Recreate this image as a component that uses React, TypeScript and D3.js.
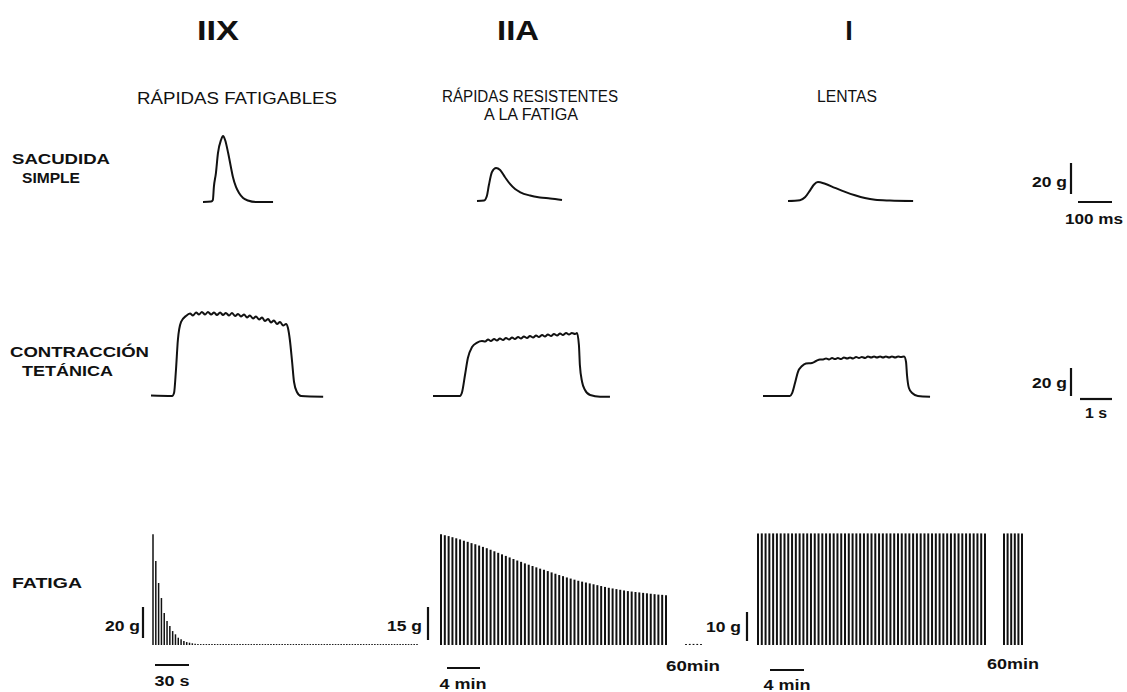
import React, { useEffect, useRef } from 'react'
import * as d3 from 'd3'

const W = 1127
const H = 692

// column headers
const fibreTypes = ['IIX', 'IIA', 'I']
const fibreNames = [['RÁPIDAS FATIGABLES'], ['RÁPIDAS RESISTENTES', 'A LA FATIGA'], ['LENTAS']]
const rowLabels = [['SACUDIDA', 'SIMPLE'], ['CONTRACCIÓN', 'TETÁNICA'], ['FATIGA']]

// single twitch, [ms, g]
const twitchIIX = [[0, 0], [24, 0.3], [29, 1.3], [32, 9.7], [38, 18.7], [44, 31.6], [53, 40], [59, 42.6], [65, 40], [74, 31.6], [82, 22.6], [88, 16.1], [97, 9.7], [106, 5.8], [118, 2.6], [132, 1], [156, 0], [206, 0]]
const twitchIIA = [[0, 0], [21, 0.3], [29, 3.2], [35, 10.3], [44, 18.7], [56, 21.3], [68, 20], [82, 15.5], [97, 11], [112, 7.7], [126, 5.8], [156, 3.5], [185, 2.3], [215, 1.6], [250, 0.6]]
const twitchI = [[0, 0], [35, 0.5], [50, 2.4], [65, 6.9], [76, 10.5], [88, 12.3], [109, 11.1], [138, 8.5], [168, 5.9], [197, 3.7], [226, 1.9], [256, 0.8], [300, 0.3], [368, 0]]

// tetanic contraction, [s, g]
const tetanusIIX = [[0, 0.3], [0.66, 0], [0.72, 2.1], [0.78, 18.6], [0.84, 40], [0.94, 52.9], [1.09, 57.1],
  [1.22, 58.9], [1.31, 57.5], [1.41, 59.6], [1.5, 58.2], [1.59, 60], [1.69, 58.2], [1.78, 60], [1.88, 58.2], [1.97, 59.6], [2.06, 57.9],
  [2.16, 59.6], [2.25, 57.9], [2.34, 59.3], [2.44, 57.5], [2.53, 59.3], [2.63, 57.1], [2.72, 58.6], [2.81, 56.8], [2.91, 58.2], [3.0, 56.1],
  [3.09, 57.5], [3.19, 55.4], [3.28, 56.8], [3.38, 54.6], [3.47, 56.1], [3.56, 53.6], [3.66, 55], [3.75, 52.5], [3.84, 53.9], [3.94, 51.4],
  [4.03, 52.9], [4.13, 50.4], [4.22, 51.4], [4.28, 48.6], [4.34, 40], [4.41, 24.3], [4.47, 10], [4.56, 2.9], [4.69, 0], [5.38, -0.5]]
const tetanusIIA = [[0, 0], [0.84, 0], [0.91, 2.9], [1.0, 15], [1.09, 27.1], [1.22, 35], [1.38, 38.2], [1.53, 39.3],
  [1.63, 38.9], [1.72, 40.4], [1.81, 39.3], [1.91, 40.7], [2.0, 39.6], [2.09, 41.1], [2.19, 40], [2.28, 41.4], [2.38, 40.4], [2.47, 41.8],
  [2.56, 40.7], [2.66, 42.1], [2.75, 41.1], [2.84, 42.5], [2.94, 41.4], [3.03, 42.9], [3.13, 41.8], [3.22, 43.2], [3.31, 42.1], [3.41, 43.6],
  [3.5, 42.5], [3.59, 43.9], [3.69, 42.9], [3.78, 44.3], [3.88, 43.2], [3.97, 44.6], [4.06, 43.6], [4.16, 45], [4.25, 43.9], [4.34, 45],
  [4.44, 44.3], [4.5, 45], [4.56, 36.4], [4.59, 22.1], [4.66, 10], [4.75, 4.3], [4.91, 0.7], [5.22, -0.5], [5.53, -0.5]]
const tetanusI = [[0, 0], [0.84, 0], [0.91, 2.1], [1.0, 9.3], [1.09, 17.1], [1.22, 21.4], [1.34, 23.2], [1.53, 23.6], [1.66, 25], [1.78, 26.1],
  [1.88, 26.1], [1.97, 26.8], [2.06, 26.1], [2.16, 27.1], [2.25, 26.4], [2.34, 27.1], [2.44, 26.4], [2.53, 27.5], [2.63, 26.8], [2.72, 27.5],
  [2.81, 26.8], [2.91, 27.9], [3.0, 27.1], [3.09, 27.9], [3.19, 27.1], [3.28, 28.2], [3.38, 27.5], [3.47, 28.2], [3.56, 27.5], [3.66, 28.2],
  [3.75, 27.5], [3.84, 28.2], [3.94, 27.5], [4.03, 28.2], [4.13, 27.5], [4.22, 28.2], [4.31, 27.9], [4.41, 28.2],
  [4.47, 24.3], [4.5, 15], [4.56, 5.7], [4.66, 2.1], [4.84, 0], [5.22, -0.5]]

// fatigue test: peak force (g) of successive tetani
const fatigueIIX = [71.4, 54.2, 40, 30.3, 20.6, 15.5, 12.3, 9, 6.9, 4.7, 3.7, 2.6, 1.9, 1.5, 1.1, 0.8, 0.7]
const fatigueIIXRest = Array(78).fill(0.6)
const fatigueIIA = [50.3, 49.9, 49.5, 49.0, 48.5, 48.0, 47.4, 46.9, 46.3, 45.8,
  45.2, 44.6, 44.0, 43.3, 42.6, 41.9, 41.2, 40.5, 39.8, 39.1,
  38.4, 37.8, 37.1, 36.5, 35.9, 35.3, 34.7, 34.2, 33.6, 33.0,
  32.4, 31.8, 31.3, 30.7, 30.2, 29.7, 29.2, 28.8, 28.4, 28.0,
  27.6, 27.2, 26.8, 26.4, 26.0, 25.7, 25.4, 25.1, 24.8, 24.5,
  24.3, 24.1, 23.9, 23.7, 23.5, 23.3, 23.1, 22.9, 22.8, 22.6]
const fatigueIIALate = [0.5, 0.5, 0.5, 0.5, 0.5]
const fatigueI = Array(61).fill(36)
const fatigueILate = Array(6).fill(36)

const FONT = 'Liberation Sans, Arial, Helvetica, sans-serif'

const App = () => {
  const ref = useRef(null)

  useEffect(() => {
    const svg = d3.select(ref.current)
    svg.selectAll('*').remove()

    const text = (s, x, y, o) => {
      const t = svg.append('text')
        .attr('x', x).attr('y', y)
        .attr('font-family', FONT)
        .attr('font-size', o.size)
        .attr('font-weight', o.weight || 'normal')
        .attr('text-anchor', o.anchor || 'start')
        .attr('fill', '#111')
        .text(s)
      if (o.len) t.attr('textLength', o.len).attr('lengthAdjust', 'spacingAndGlyphs')
    }

    // headers
    const headX = [218, 518, 849]
    fibreTypes.forEach((s, i) => text(s, headX[i], 40, { size: 27, weight: 'bold', anchor: 'middle', len: s.length === 1 ? null : 42 }))
    text(fibreNames[0][0], 237, 104, { size: 16, anchor: 'middle', len: 200 })
    text(fibreNames[1][0], 530, 102, { size: 16, anchor: 'middle', len: 176 })
    text(fibreNames[1][1], 531, 120, { size: 16, anchor: 'middle', len: 94 })
    text(fibreNames[2][0], 847, 102, { size: 16, anchor: 'middle', len: 60 })

    // row labels
    text(rowLabels[0][0], 12, 164, { size: 15, weight: 'bold', len: 98 })
    text(rowLabels[0][1], 22, 183, { size: 15, weight: 'bold', len: 58 })
    text(rowLabels[1][0], 10, 357, { size: 15, weight: 'bold', len: 139 })
    text(rowLabels[1][1], 22, 376, { size: 15, weight: 'bold', len: 91 })
    text(rowLabels[2][0], 12, 588, { size: 15, weight: 'bold', len: 70 })

    const ink = '#111'
    const trace = (data, x, y, w) => {
      svg.append('path')
        .datum(data)
        .attr('fill', 'none')
        .attr('stroke', ink)
        .attr('stroke-width', w)
        .attr('stroke-linejoin', 'round')
        .attr('d', d3.line().x(d => x(d[0])).y(d => y(d[1])).curve(d3.curveMonotoneX))
    }
    const vbar = (x, y, v) => svg.append('line')
      .attr('x1', x).attr('x2', x).attr('y1', y(0)).attr('y2', y(v))
      .attr('stroke', ink).attr('stroke-width', 2.2)
    const hbar = (x, from, to, yy) => svg.append('line')
      .attr('x1', x(from)).attr('x2', x(to)).attr('y1', yy).attr('y2', yy)
      .attr('stroke', ink).attr('stroke-width', 2.2)

    // single twitches: 100 ms = 34 px, 20 g = 31 px
    const twitch = [
      { data: twitchIIX, x0: 203, base: 202 },
      { data: twitchIIA, x0: 477, base: 201 },
      { data: twitchI, x0: 788, base: 201 }
    ]
    twitch.forEach(p => {
      const x = d3.scaleLinear().domain([0, 100]).range([p.x0, p.x0 + 34])
      const y = d3.scaleLinear().domain([0, 20]).range([p.base, p.base - 31])
      trace(p.data, x, y, 2)
    })
    vbar(1071, d3.scaleLinear().domain([0, 20]).range([194, 163]), 20)
    hbar(d3.scaleLinear().domain([0, 100]).range([1078, 1112]), 0, 100, 202)
    text('20 g', 1067, 187, { size: 14, weight: 'bold', anchor: 'end', len: 35 })
    text('100 ms', 1094, 224, { size: 14, weight: 'bold', anchor: 'middle', len: 58 })

    // tetanic contractions: 1 s = 32 px, 20 g = 28 px
    const tetanus = [
      { data: tetanusIIX, x0: 151, base: 396 },
      { data: tetanusIIA, x0: 433, base: 396 },
      { data: tetanusI, x0: 763, base: 396 }
    ]
    tetanus.forEach(p => {
      const x = d3.scaleLinear().domain([0, 1]).range([p.x0, p.x0 + 32])
      const y = d3.scaleLinear().domain([0, 20]).range([p.base, p.base - 28])
      trace(p.data, x, y, 2)
    })
    vbar(1071, d3.scaleLinear().domain([0, 20]).range([396, 368]), 20)
    hbar(d3.scaleLinear().domain([0, 1]).range([1080, 1112]), 0, 1, 399)
    text('20 g', 1067, 388, { size: 14, weight: 'bold', anchor: 'end', len: 35 })
    text('1 s', 1096, 418, { size: 14, weight: 'bold', anchor: 'middle', len: 22 })

    // fatigue
    const bars = (vals, x0, x1, y, w) => {
      const x = d3.scaleLinear().domain([0, vals.length - 1]).range([x0, x1])
      svg.append('g').selectAll('line').data(vals).join('line')
        .attr('x1', (d, i) => x(i)).attr('x2', (d, i) => x(i))
        .attr('y1', y(0)).attr('y2', d => y(d))
        .attr('stroke', ink).attr('stroke-width', w)
    }
    const base = 645
    // IIX: 20 g = 31 px
    const yIIX = d3.scaleLinear().domain([0, 20]).range([base, base - 31])
    bars(fatigueIIX.concat(fatigueIIXRest), 153, 417, yIIX, 1.5)
    vbar(143, d3.scaleLinear().domain([0, 20]).range([638, 607]), 20)
    text('20 g', 140, 631, { size: 14, weight: 'bold', anchor: 'end', len: 35 })
    hbar(d3.scaleLinear().domain([0, 30]).range([155, 189]), 0, 30, 665)
    text('30 s', 172, 686, { size: 14, weight: 'bold', anchor: 'middle', len: 35 })

    // IIA: 15 g = 33 px
    const yIIA = d3.scaleLinear().domain([0, 15]).range([base, base - 33])
    bars(fatigueIIA, 441, 666, yIIA, 2)
    bars(fatigueIIALate, 686, 701, yIIA, 1.8)
    vbar(428, d3.scaleLinear().domain([0, 15]).range([640, 607]), 15)
    text('15 g', 422, 631, { size: 14, weight: 'bold', anchor: 'end', len: 35 })
    hbar(d3.scaleLinear().domain([0, 4]).range([447, 480]), 0, 4, 668)
    text('4 min', 463, 689, { size: 14, weight: 'bold', anchor: 'middle', len: 47 })
    text('60min', 666, 671, { size: 14, weight: 'bold', len: 54 })

    // I: 10 g = 31 px
    const yI = d3.scaleLinear().domain([0, 10]).range([base, base - 31])
    bars(fatigueI, 758, 985, yI, 2)
    bars(fatigueILate, 1004, 1022, yI, 2)
    vbar(747, d3.scaleLinear().domain([0, 10]).range([641, 612]), 10)
    text('10 g', 741, 632, { size: 14, weight: 'bold', anchor: 'end', len: 35 })
    hbar(d3.scaleLinear().domain([0, 4]).range([770, 804]), 0, 4, 670)
    text('4 min', 787, 690, { size: 14, weight: 'bold', anchor: 'middle', len: 47 })
    text('60min', 987, 669, { size: 14, weight: 'bold', len: 52 })
  }, [])

  return (
    <svg ref={ref} width={W} height={H}
      style={{ position: 'absolute', left: 0, top: 0, background: '#fff' }} />
  )
}

export default App
